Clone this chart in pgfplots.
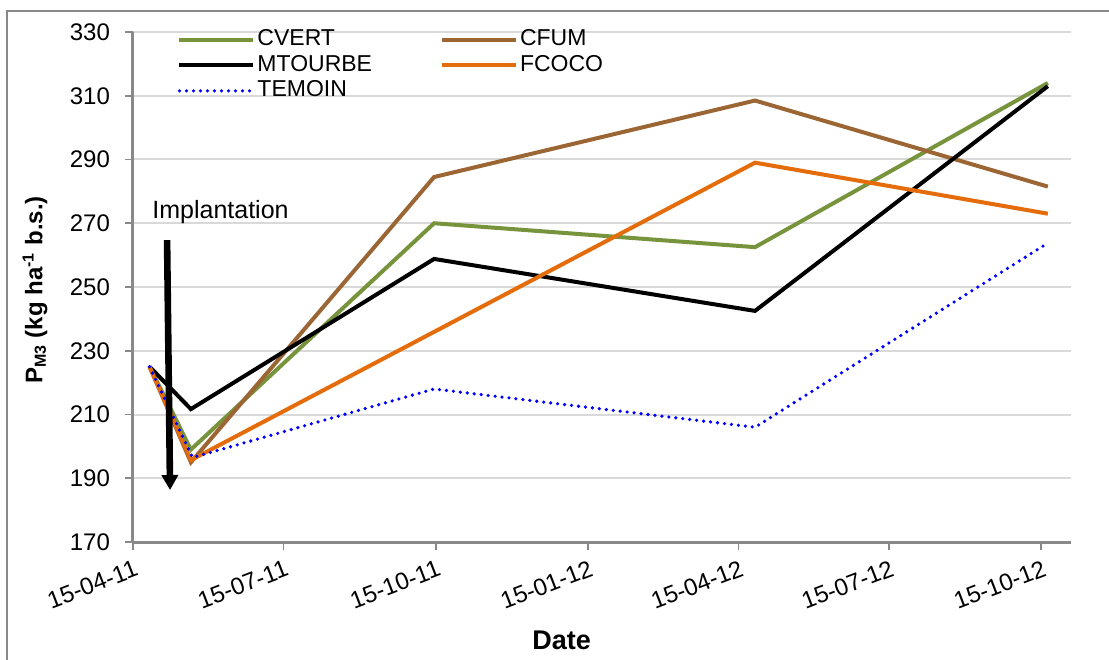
\documentclass[border=0pt]{standalone}
\usepackage{fontspec}
\setmainfont{Liberation Sans}
\usepackage{pgfplots}
\pgfplotsset{compat=1.18}
\usetikzlibrary{arrows.meta}
\definecolor{cvert}{HTML}{77933C}
\definecolor{cfum}{HTML}{9B6534}
\definecolor{fcoco}{HTML}{E46C0A}
\definecolor{gridc}{HTML}{D9D9D9}
\definecolor{axc}{HTML}{898989}
\begin{document}
\begin{tikzpicture}
\useasboundingbox (0,0) rectangle (554.5pt,329.5pt);
\draw[axc, line width=0.8pt] (3.5pt,-2pt) -- (3.5pt,324pt) -- (560pt,324pt);
\begin{axis}[
  at={(66.5pt,58.5pt)}, anchor=south west,
  scale only axis, width=469pt, height=255pt,
  xmin=0, xmax=567, ymin=170, ymax=330,
  axis x line*=bottom, axis y line*=left,
  axis line style={axc, line width=1.5pt, -},
  xtick={0,91,183,275,366,457,549},
  xticklabels={15-04-11,15-07-11,15-10-11,15-01-12,15-04-12,15-07-12,15-10-12},
  ytick={170,190,...,330},
  tick align=outside, major tick length=4pt,
  tick style={axc, line width=0.8pt},
  ymajorgrids, grid style={gridc, line width=1pt},
  /pgf/number format/assume math mode=true,
  ticklabel style={font=\fontsize{12}{14}\selectfont},
  xticklabel style={rotate=21, anchor=north east, xshift=2pt, yshift=-1pt},
  yticklabel style={xshift=-4pt},
  xlabel={\textbf{Date}},
  xlabel style={font=\fontsize{13.5}{15}\selectfont, at={(axis description cs:0.457,-0.192)}, anchor=center},
  ylabel={\textbf{P\textsubscript{M3} (kg ha\textsuperscript{-1} b.s.)}},
  ylabel style={font=\fontsize{12}{14}\selectfont, at={(axis description cs:-0.1045,0.494)}, anchor=center},
  legend columns=2,
  legend cell align=left,
  legend style={at={(axis description cs:0.047,1.007)}, anchor=north west,
    draw=none, fill=none, inner sep=0pt,
    font=\fontsize{11.5}{12}\selectfont,
    nodes={inner ysep=0pt, inner xsep=1pt, text height=8.5pt, text depth=2.5pt},
    row sep=1.75pt,
    /tikz/every even column/.append style={column sep=33pt}},
  legend image code/.code={\draw[#1] (0pt,0pt) -- (37pt,0pt);},
  every axis plot/.append style={line width=2pt},
]
\addplot[cvert] coordinates {(10,225) (35,199) (182,270) (376,262.5) (553,314)};
\addlegendentry{CVERT}
\addplot[cfum] coordinates {(10,225) (35,195) (182,284.5) (376,308.5) (553,281.5)};
\addlegendentry{CFUM}
\addplot[black] coordinates {(10,225) (35,211.7) (182,258.8) (376,242.5) (553,313)};
\addlegendentry{MTOURBE}
\addplot[fcoco] coordinates {(10,225) (35,195.7) (376,289) (553,273)};
\addlegendentry{FCOCO}
\addplot[blue, line width=1.8pt, line cap=round, dash pattern=on 0pt off 3.5pt] coordinates {(10,225) (36,196.5) (182,218) (376,206) (553,263.8)};
\addlegendentry{TEMOIN}
\node[anchor=base west, inner sep=0pt, font=\fontsize{12.5}{14}\selectfont] at (axis cs:11.5,271.6) {Implantation};
\draw[black, line width=3.3pt, -{Triangle[width=8pt,length=7.5pt]}] (axis cs:20.6,264.7) -- (axis cs:22.4,186.3);
\end{axis}
\end{tikzpicture}
\end{document}
